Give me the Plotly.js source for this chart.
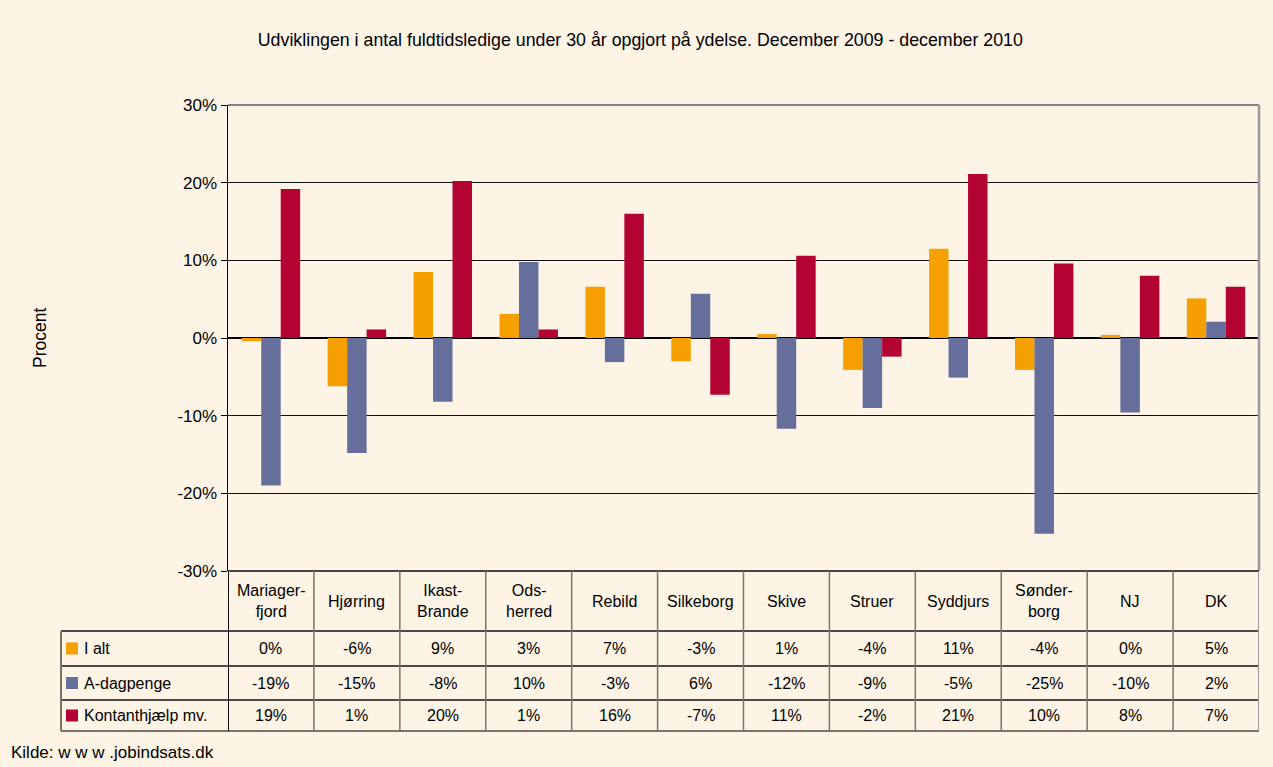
<!DOCTYPE html>
<html>
<head>
<meta charset="utf-8">
<script src="https://cdn.plot.ly/plotly-3.0.1.min.js"></script>
<style>
html,body{margin:0;padding:0;background:#FEF4E6;}
#chart{width:1273px;height:767px;}
</style>
</head>
<body>
<div id="chart"></div>
<script>
// ---- data ----
const categories = ["Mariagerfjord","Hjørring","Ikast-Brande","Odsherred","Rebild","Silkeborg","Skive","Struer","Syddjurs","Sønderborg","NJ","DK"];
const headerLabels = ["Mariager-<br>fjord","Hjørring","Ikast-<br>Brande","Ods-<br>herred","Rebild","Silkeborg","Skive","Struer","Syddjurs","Sønder-<br>borg","NJ","DK"];
const seriesNames = ["I alt","A-dagpenge","Kontanthjælp mv."];
const iAlt        = [-0.4, -6.2, 8.5, 3.1, 6.6, -3.0, 0.5, -4.1, 11.5, -4.1, 0.4, 5.1];
const aDagpenge   = [-19.0, -14.8, -8.2, 9.8, -3.1, 5.7, -11.7, -9.0, -5.1, -25.2, -9.6, 2.1];
const kontant     = [19.2, 1.1, 20.2, 1.1, 16.0, -7.3, 10.6, -2.4, 21.1, 9.6, 8.0, 6.6];
const iAltLbl     = ["0%","-6%","9%","3%","7%","-3%","1%","-4%","11%","-4%","0%","5%"];
const aDagLbl     = ["-19%","-15%","-8%","10%","-3%","6%","-12%","-9%","-5%","-25%","-10%","2%"];
const kontLbl     = ["19%","1%","20%","1%","16%","-7%","11%","-2%","21%","10%","8%","7%"];
const yTickVals   = [-30, -20, -10, 0, 10, 20, 30];
const yTickText   = ["-30%","-20%","-10%","0%","10%","20%","30%"];
const colors = ["#F5A000","#666E9B","#B30332"];

// ---- layout geometry (pixels) ----
const W = 1273, H = 767;
const M = {l:228, r:14, t:105, b:196};
const pw = W - M.l - M.r, ph = H - M.t - M.b;
const px = x => (x - M.l) / pw;
const py = y => (H - M.b - y) / ph;
const FONT = "Liberation Sans, Arial, sans-serif";

const values = [iAlt, aDagpenge, kontant];
const labels = [iAltLbl, aDagLbl, kontLbl];

const traces = values.map((v, i) => ({
  type: "bar", x: categories, y: v, name: seriesNames[i],
  marker: {color: colors[i], line: {width: 0}}, hoverinfo: "x+y"
}));

// table rows (pixel y boundaries)
const headerTop = 571, rowB = [631, 666, 700, 731];
const tableLeft = 61;

const shapes = [];
const annotations = [];
const dark = "#111111", border = "#7A736C";

// plot area frame
shapes.push({type:"line", xref:"paper", yref:"paper", x0:0, x1:1, y0:1, y1:1, line:{color:"#808080", width:2}});
shapes.push({type:"line", xref:"paper", yref:"paper", x0:1, x1:1, y0:0, y1:1, line:{color:"#999999", width:2.5}});

// table horizontal lines
shapes.push({type:"line", xref:"paper", yref:"paper", x0:0, x1:1, y0:0, y1:0, line:{color:"#444", width:2}});
rowB.forEach((b, k) => {
  const last = k === rowB.length - 1;
  shapes.push({type:"line", xref:"paper", yref:"paper", x0:px(tableLeft), x1:1, y0:py(b), y1:py(b),
    line:{color: last ? border : dark, width: last ? 2 : 1.3}});
});
// table vertical lines at category boundaries
for (let i = 0; i <= categories.length; i++) {
  const outer = (i === 0 || i === categories.length);
  shapes.push({type:"line", xref:"x", yref:"paper", x0:i-0.5, x1:i-0.5, y0:0, y1:py(rowB[3]),
    line:{color: i === categories.length ? "#999999" : (outer ? dark : border), width: outer ? 2 : 1.5}});
}
shapes.push({type:"line", xref:"paper", yref:"paper", x0:px(tableLeft), x1:px(tableLeft), y0:py(rowB[0]), y1:py(rowB[3]), line:{color:border, width:2}});

// header labels
categories.forEach((c, i) => {
  annotations.push({xref:"x", yref:"paper", x:c, y:py((headerTop + rowB[0]) / 2), text:headerLabels[i],
    showarrow:false, font:{family:FONT, size:16, color:"#000"}, xanchor:"center", yanchor:"middle"});
});
// row values
const rowTops = [rowB[0], rowB[1], rowB[2]];
const rowBots = [rowB[1], rowB[2], rowB[3]];
labels.forEach((lbls, s) => {
  const yc = py((rowTops[s] + rowBots[s]) / 2);
  lbls.forEach((t, i) => {
    annotations.push({xref:"x", yref:"paper", x:categories[i], y:yc, text:t, showarrow:false,
      font:{family:FONT, size:16, color:"#000"}, xanchor:"center", yanchor:"middle"});
  });
  const sq = 12;
  const ycp = (rowTops[s] + rowBots[s]) / 2;
  shapes.push({type:"rect", xref:"paper", yref:"paper", x0:px(66), x1:px(66+sq), y0:py(ycp+sq/2), y1:py(ycp-sq/2),
    fillcolor:colors[s], line:{width:0}});
  annotations.push({xref:"paper", yref:"paper", x:px(82), y:yc, text:seriesNames[s], showarrow:false,
    font:{family:FONT, size:16, color:"#000"}, xanchor:"left", yanchor:"middle"});
});

// y axis title
annotations.push({xref:"paper", yref:"paper", x:px(40), y:py(338), text:"Procent", textangle:-90, showarrow:false,
  font:{family:FONT, size:17.5, color:"#000"}, xanchor:"center", yanchor:"middle"});
// source
annotations.push({xref:"paper", yref:"paper", x:px(9), y:py(752), text:"Kilde: w w w .jobindsats.dk", showarrow:false,
  font:{family:FONT, size:17, color:"#000"}, xanchor:"left", yanchor:"middle"});

const layout = {
  width: W, height: H,
  paper_bgcolor: "#FEF4E6", plot_bgcolor: "#FEF4E6",
  margin: M,
  showlegend: false,
  barmode: "group", bargap: 0.32, bargroupgap: 0,
  title: {text: "Udviklingen i antal fuldtidsledige under 30 år opgjort på ydelse. December 2009 - december 2010",
    font: {family: FONT, size: 17.8, color: "#000"}, x: 0.503, xanchor: "center", y: 0.948, yanchor: "middle"},
  xaxis: {type: "category", showticklabels: false, showgrid: false, zeroline: false, showline: false,
    ticks: "", range: [-0.5, categories.length - 0.5], fixedrange: true},
  yaxis: {range: [-30, 30], tickvals: yTickVals, ticktext: yTickText, showgrid: true, gridcolor: "#111", gridwidth: 1,
    zeroline: true, zerolinecolor: "#000", zerolinewidth: 2,
    showline: true, linecolor: "#000", linewidth: 1.5, ticks: "outside", ticklen: 6, tickcolor: "#000", tickwidth: 1,
    tickfont: {family: FONT, size: 17, color: "#000"}, fixedrange: true},
  shapes: shapes,
  annotations: annotations
};

Plotly.newPlot("chart", traces, layout, {displayModeBar: false, staticPlot: true});
</script>
</body>
</html>
